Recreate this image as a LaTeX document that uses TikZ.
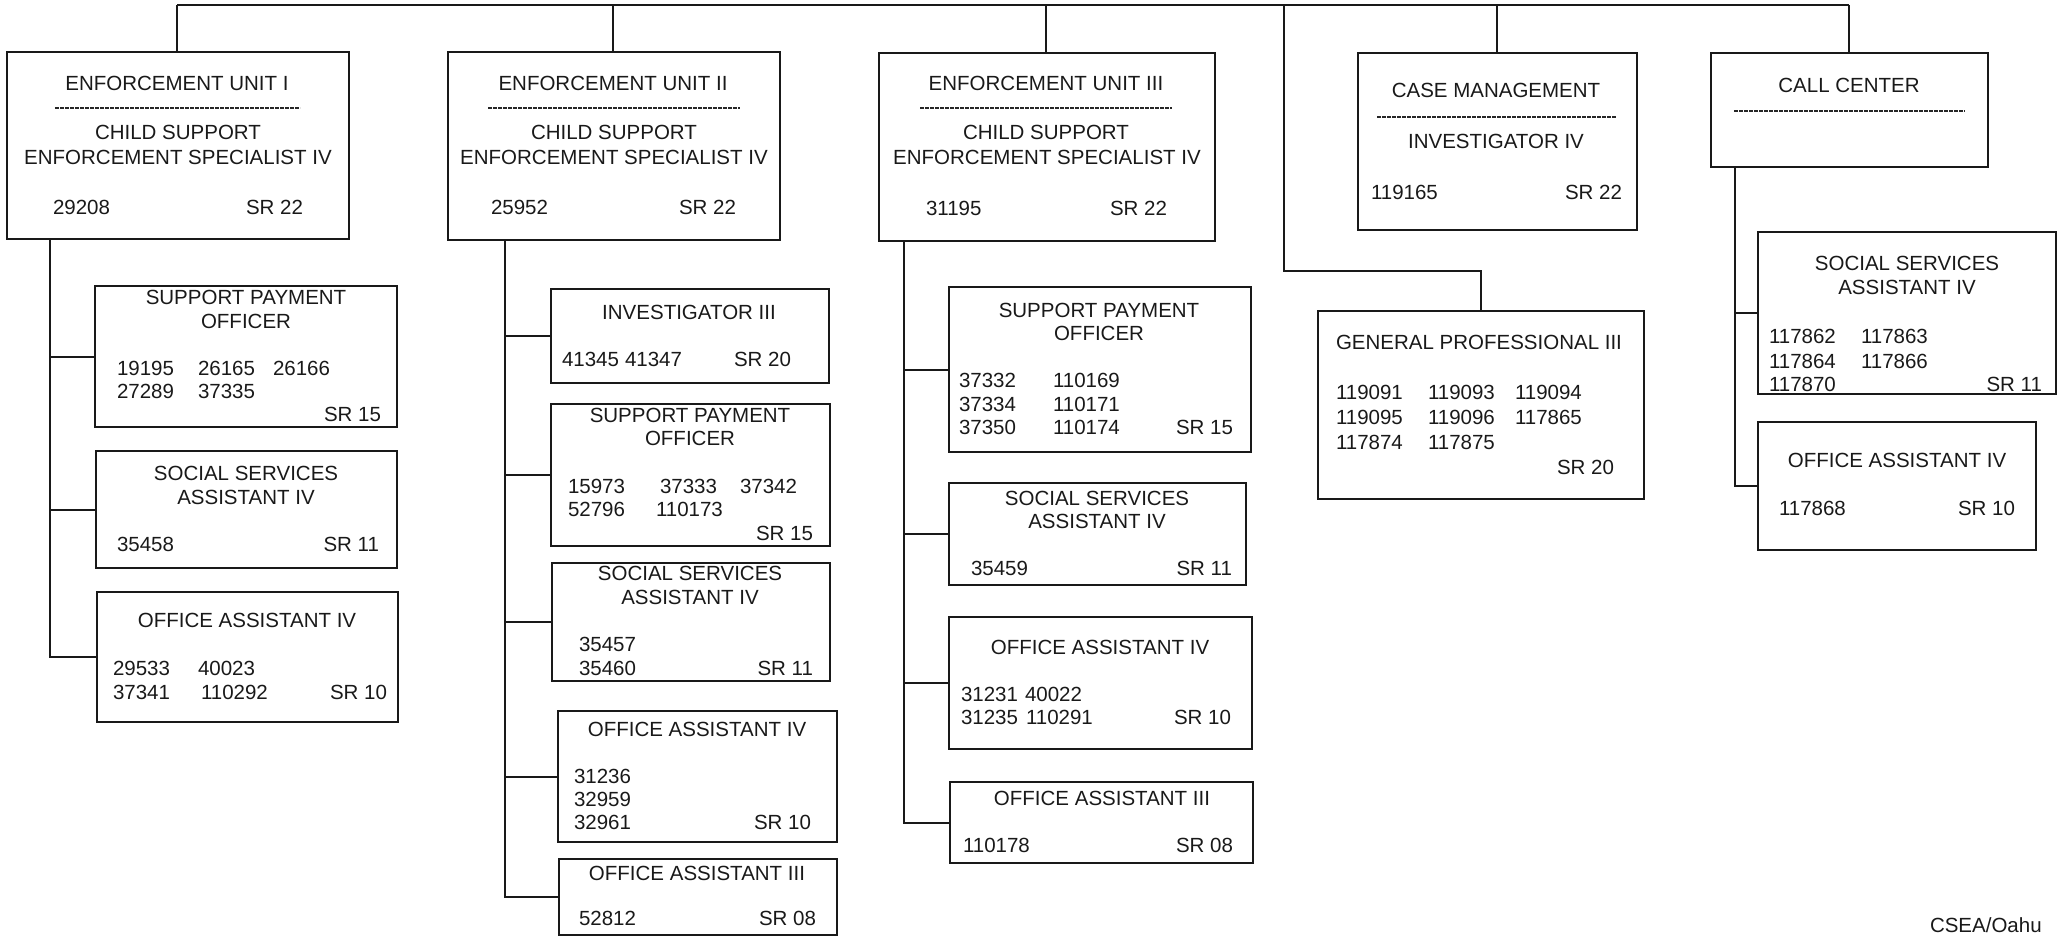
\documentclass[tikz,border=0pt]{standalone}
\usepackage{fontspec}
\setmainfont{Liberation Sans}
\begin{document}
\begin{tikzpicture}[x=1pt,y=-1pt,
  box/.style={draw=black!90,line width=2.2pt,anchor=north west,inner sep=0pt,outer sep=0pt},
  conn/.style={draw=black!90,line width=2pt,line join=miter},
  sep/.style={draw=black!85,line width=1.3pt,dash pattern=on 4pt off 1pt},
  txt/.style={inner sep=0pt,outer sep=0pt,font=\fontsize{20.5}{24}\selectfont,text=black!90},
  tl/.style={txt,anchor=base west},
  tr/.style={txt,anchor=base east},
  tc/.style={txt,anchor=base}]
\useasboundingbox (0,0) rectangle (2057,937);

% ---------- boxes ----------
\newcommand{\mkbox}[5]{\node[box,minimum width=#4-#2,minimum height=#5-#3] (#1) at (#2,#3) {};}
\mkbox{eua}{7}{52}{349}{239}
\mkbox{eub}{448}{52}{780}{240}
\mkbox{euc}{879}{53}{1215}{241}
\mkbox{cm}{1358}{53}{1637}{230}
\mkbox{cc}{1711}{53}{1988}{167}
\mkbox{gp}{1318}{311}{1644}{499}
\mkbox{spoa}{95}{286}{397}{427}
\mkbox{ssaa}{96}{451}{397}{568}
\mkbox{oaa}{97}{592}{398}{722}
\mkbox{invb}{551}{289}{829}{383}
\mkbox{spob}{551}{404}{830}{546}
\mkbox{ssab}{552}{563}{830}{681}
\mkbox{oab}{558}{711}{837}{842}
\mkbox{oabb}{559}{859}{837}{935}
\mkbox{spoc}{949}{287}{1251}{452}
\mkbox{ssac}{949}{483}{1246}{585}
\mkbox{oac}{949}{617}{1252}{749}
\mkbox{oacc}{950}{782}{1253}{863}
\mkbox{ssad}{1758}{232}{2056}{394}
\mkbox{oad}{1758}{422}{2036}{550}

% ---------- connectors ----------
\coordinate (ta) at (177,5);
\coordinate (tb) at (613,5);
\coordinate (tc) at (1046,5);
\coordinate (tg) at (1284,5);
\coordinate (tm) at (1497,5);
\coordinate (tz) at (1849,5);
\coordinate (gpk) at (1481,271);
\draw[conn] (ta) -- (tz);
\draw[conn] (ta) -- (ta |- eua.north);
\draw[conn] (tb) -- (tb |- eub.north);
\draw[conn] (tc) -- (tc |- euc.north);
\draw[conn] (tm) -- (tm |- cm.north);
\draw[conn] (tz) -- (tz |- cc.north);
\draw[conn] (tg) |- (gpk) -- (gpk |- gp.north);

\coordinate (sa) at (50,0);
\coordinate (sb) at (505,0);
\coordinate (sc) at (904,0);
\coordinate (sd) at (1735,0);
\draw[conn] (sa |- eua.south) |- (oaa.west);
\draw[conn] (sa |- spoa.west) -- (spoa.west);
\draw[conn] (sa |- ssaa.west) -- (ssaa.west);
\draw[conn] (sb |- eub.south) |- (oabb.west);
\draw[conn] (sb |- invb.west) -- (invb.west);
\draw[conn] (sb |- spob.west) -- (spob.west);
\draw[conn] (sb |- ssab.west) -- (ssab.west);
\draw[conn] (sb |- oab.west) -- (oab.west);
\draw[conn] (sc |- euc.south) |- (oacc.west);
\draw[conn] (sc |- spoc.west) -- (spoc.west);
\draw[conn] (sc |- ssac.west) -- (ssac.west);
\draw[conn] (sc |- oac.west) -- (oac.west);
\draw[conn] (sd |- cc.south) |- (oad.west);
\draw[conn] (sd |- ssad.west) -- (ssad.west);

% ---------- separators ----------
\coordinate (da1) at (55,108);   \coordinate (da2) at (300,108);
\coordinate (db1) at (488,108);  \coordinate (db2) at (740,108);
\coordinate (dc1) at (920,108);  \coordinate (dc2) at (1172,108);
\coordinate (dm1) at (1377,117); \coordinate (dm2) at (1616,117);
\coordinate (dz1) at (1734,111); \coordinate (dz2) at (1965,111);
\draw[sep] (da1) -- (da2);
\draw[sep] (db1) -- (db2);
\draw[sep] (dc1) -- (dc2);
\draw[sep] (dm1) -- (dm2);
\draw[sep] (dz1) -- (dz2);

% ---------- Enforcement Unit I ----------
\node[tc] (a1) at (177,90) {ENFORCEMENT UNIT I};
\node[tc] (a2) at (178,139) {CHILD SUPPORT};
\node[tc] (a3) at (178,164) {ENFORCEMENT SPECIALIST IV};
\node[tl] (a4) at (53,214) {29208};
\node[tr] (a5) at (303,214) {SR 22};

\node[tc] (a6) at (246,304) {SUPPORT PAYMENT};
\node[tc] (a7) at (246,328) {OFFICER};
\node[tl] (a8) at (117,375) {19195};
\node[tl] (a9) at (198,375) {26165};
\node[tl] (a10) at (273,375) {26166};
\node[tl] (a11) at (117,398) {27289};
\node[tl] (a12) at (198,398) {37335};
\node[tr] (a13) at (381,421) {SR 15};

\node[tc] (a14) at (246,480) {SOCIAL SERVICES};
\node[tc] (a15) at (246,504) {ASSISTANT IV};
\node[tl] (a16) at (117,551) {35458};
\node[tr] (a17) at (379,551) {SR 11};

\node[tc] (a18) at (247,627) {OFFICE ASSISTANT IV};
\node[tl] (a19) at (113,675) {29533};
\node[tl] (a20) at (198,675) {40023};
\node[tl] (a21) at (113,699) {37341};
\node[tl] (a22) at (201,699) {110292};
\node[tr] (a23) at (387,699) {SR 10};

% ---------- Enforcement Unit II ----------
\node[tc] (b1) at (613,90) {ENFORCEMENT UNIT II};
\node[tc] (b2) at (614,139) {CHILD SUPPORT};
\node[tc] (b3) at (614,164) {ENFORCEMENT SPECIALIST IV};
\node[tl] (b4) at (491,214) {25952};
\node[tr] (b5) at (736,214) {SR 22};

\node[tc] (b6) at (689,319) {INVESTIGATOR III};
\node[tl] (b7) at (562,366) {41345};
\node[tl] (b8) at (625,366) {41347};
\node[tr] (b9) at (791,366) {SR 20};

\node[tc] (b10) at (690,422) {SUPPORT PAYMENT};
\node[tc] (b11) at (690,445) {OFFICER};
\node[tl] (b12) at (568,493) {15973};
\node[tl] (b13) at (660,493) {37333};
\node[tl] (b14) at (740,493) {37342};
\node[tl] (b15) at (568,516) {52796};
\node[tl] (b16) at (656,516) {110173};
\node[tr] (b17) at (813,540) {SR 15};

\node[tc] (b18) at (690,580) {SOCIAL SERVICES};
\node[tc] (b19) at (690,604) {ASSISTANT IV};
\node[tl] (b20) at (579,651) {35457};
\node[tl] (b21) at (579,675) {35460};
\node[tr] (b22) at (813,675) {SR 11};

\node[tc] (b23) at (697,736) {OFFICE ASSISTANT IV};
\node[tl] (b24) at (574,783) {31236};
\node[tl] (b25) at (574,806) {32959};
\node[tl] (b26) at (574,829) {32961};
\node[tr] (b27) at (811,829) {SR 10};

\node[tc] (b28) at (697,880) {OFFICE ASSISTANT III};
\node[tl] (b29) at (579,925) {52812};
\node[tr] (b30) at (816,925) {SR 08};

% ---------- Enforcement Unit III ----------
\node[tc] (c1) at (1046,90) {ENFORCEMENT UNIT III};
\node[tc] (c2) at (1046,139) {CHILD SUPPORT};
\node[tc] (c3) at (1047,164) {ENFORCEMENT SPECIALIST IV};
\node[tl] (c4) at (926,215) {31195};
\node[tr] (c5) at (1167,215) {SR 22};

\node[tc] (c6) at (1099,317) {SUPPORT PAYMENT};
\node[tc] (c7) at (1099,340) {OFFICER};
\node[tl] (c8) at (959,387) {37332};
\node[tl] (c9) at (1053,387) {110169};
\node[tl] (c10) at (959,411) {37334};
\node[tl] (c11) at (1053,411) {110171};
\node[tl] (c12) at (959,434) {37350};
\node[tl] (c13) at (1053,434) {110174};
\node[tr] (c14) at (1233,434) {SR 15};

\node[tc] (c15) at (1097,505) {SOCIAL SERVICES};
\node[tc] (c16) at (1097,528) {ASSISTANT IV};
\node[tl] (c17) at (971,575) {35459};
\node[tr] (c18) at (1232,575) {SR 11};

\node[tc] (c19) at (1100,654) {OFFICE ASSISTANT IV};
\node[tl] (c20) at (961,701) {31231};
\node[tl] (c21) at (1025,701) {40022};
\node[tl] (c22) at (961,724) {31235};
\node[tl] (c23) at (1026,724) {110291};
\node[tr] (c24) at (1231,724) {SR 10};

\node[tc] (c25) at (1102,805) {OFFICE ASSISTANT III};
\node[tl] (c26) at (963,852) {110178};
\node[tr] (c27) at (1233,852) {SR 08};

% ---------- Case management ----------
\node[tc] (m1) at (1496,97) {CASE MANAGEMENT};
\node[tc] (m2) at (1496,148) {INVESTIGATOR IV};
\node[tl] (m3) at (1371,199) {119165};
\node[tr] (m4) at (1622,199) {SR 22};

\node[tl] (g1) at (1336,349) {GENERAL PROFESSIONAL III};
\node[tl] (g2) at (1336,399) {119091};
\node[tl] (g3) at (1428,399) {119093};
\node[tl] (g4) at (1515,399) {119094};
\node[tl] (g5) at (1336,424) {119095};
\node[tl] (g6) at (1428,424) {119096};
\node[tl] (g7) at (1515,424) {117865};
\node[tl] (g8) at (1336,449) {117874};
\node[tl] (g9) at (1428,449) {117875};
\node[tr] (g10) at (1614,474) {SR 20};

% ---------- Call center ----------
\node[tc] (z1) at (1849,92) {CALL CENTER};
\node[tc] (z2) at (1907,270) {SOCIAL SERVICES};
\node[tc] (z3) at (1907,294) {ASSISTANT IV};
\node[tl] (z4) at (1769,343) {117862};
\node[tl] (z5) at (1861,343) {117863};
\node[tl] (z6) at (1769,368) {117864};
\node[tl] (z7) at (1861,368) {117866};
\node[tl] (z8) at (1769,391) {117870};
\node[tr] (z9) at (2042,391) {SR 11};

\node[tc] (z10) at (1897,467) {OFFICE ASSISTANT IV};
\node[tl] (z11) at (1779,515) {117868};
\node[tr] (z12) at (2015,515) {SR 10};

\node[tl] (foot) at (1930,932) {CSEA/Oahu};
\end{tikzpicture}
\end{document}
